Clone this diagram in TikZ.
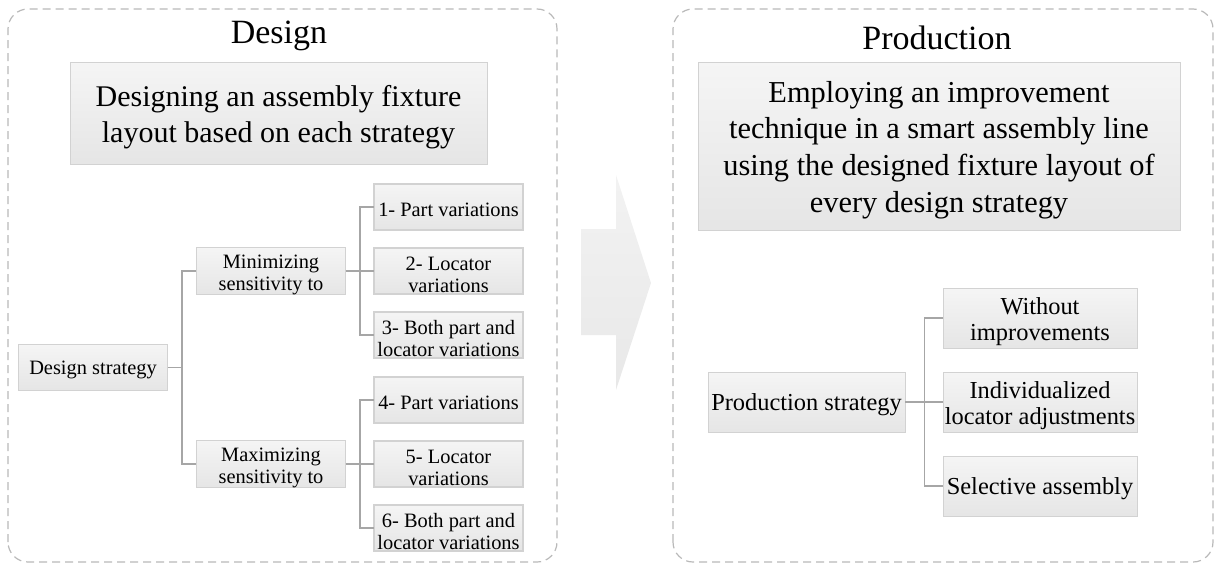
\documentclass[tikz,border=0pt]{standalone}
\usepackage{fontspec}
\setmainfont{Liberation Serif}

\newcommand{\lift}[1]{\rule{0pt}{#1em}}

\begin{document}
\begin{tikzpicture}[x=0.5pt,y=0.5pt,
        box/.style={rectangle,draw=gray!35,top color=gray!8,bottom color=gray!20,inner sep=0pt,align=center,
            execute at begin node={\rule{0pt}{0.95em}}},
        small/.style={box,minimum width=74.5pt,minimum height=23pt,font=\fontsize{10.2}{10.8}\selectfont},
        pstep/.style={box,minimum width=97pt,minimum height=30pt,font=\fontsize{12.2}{13.3}\selectfont},
        frame/.style={draw=gray!55,line width=0.6pt,dash pattern=on 4pt off 2.5pt,rounded corners=10pt},
        headline/.style={font=\fontsize{17}{20}\selectfont,anchor=base},
        elbow/.style={edge from parent path={(\tikzparentnode.east) -- ++(#1,0) |- (\tikzchildnode.west)}},
        edge from parent/.style={draw=gray!70,line width=0.7pt}]

    \useasboundingbox (0,0) rectangle (1215,564);

    % dashed frames
    \draw[frame] (8,2) rectangle (557,555);
    \draw[frame] (673,2) rectangle (1213,555);

    \node[headline] (dtitle) at (279,521) {Design};
    \node[headline] (ptitle) at (937,515) {Production};

    \node[box,minimum width=208.5pt,minimum height=51pt,font=\fontsize{15}{18}\selectfont] (dbox) at (278.5,451)
        {\lift{0.95}Designing an assembly fixture\\layout based on each strategy};
    \node[box,minimum width=241pt,minimum height=84pt,font=\fontsize{15.2}{18.3}\selectfont] (pbox) at (939,418)
        {\lift{0.95}Employing an improvement\\technique in a smart assembly line\\using the designed fixture layout of\\every design strategy};

    % block arrow
    \path[top color=gray!10,bottom color=gray!18] (581,335) -- (616,335) -- (616,389) -- (651,281)
        -- (616,174) -- (616,229) -- (581,229) -- cycle;

    % design tree
    \begin{scope}[grow'=right,elbow=14,
            level 1/.style={level distance=89pt,sibling distance=96.5pt},
            level 2/.style={level distance=88.75pt,sibling distance=32pt}]
        \node[small] (dstrat) at (93,196.5) {Design strategy}
        child   {
                node[small] (minsens) {\lift{1.05}Minimizing\\sensitivity to}
                child   {node[small] (mpart) {1- Part variations}}
                child   {node[small] (mloc) {\lift{1.05}2- Locator\\variations}}
                child   {node[small] (mboth) {\lift{1.05}3- Both part and\\locator variations}}
            }
        child   {
                node[small] (maxsens) {\lift{1.05}Maximizing\\sensitivity to}
                child   {node[small] (xpart) {4- Part variations}}
                child   {node[small] (xloc) {\lift{1.05}5- Locator\\variations}}
                child   {node[small] (xboth) {\lift{1.05}6- Both part and\\locator variations}}
            };
    \end{scope}

    % production tree
    \begin{scope}[grow'=right,elbow=19,
            level 1/.style={level distance=116.75pt,sibling distance=42pt}]
        \node[pstep,minimum width=98.5pt] (pstrat) at (806.5,162) {Production strategy}
        child   {node[pstep] (noimp) {\lift{1}Without\\improvements}}
        child   {node[pstep] (indiv) {\lift{1}Individualized\\locator adjustments}}
        child   {node[pstep] (selas) {Selective assembly}};
    \end{scope}
\end{tikzpicture}
\end{document}
